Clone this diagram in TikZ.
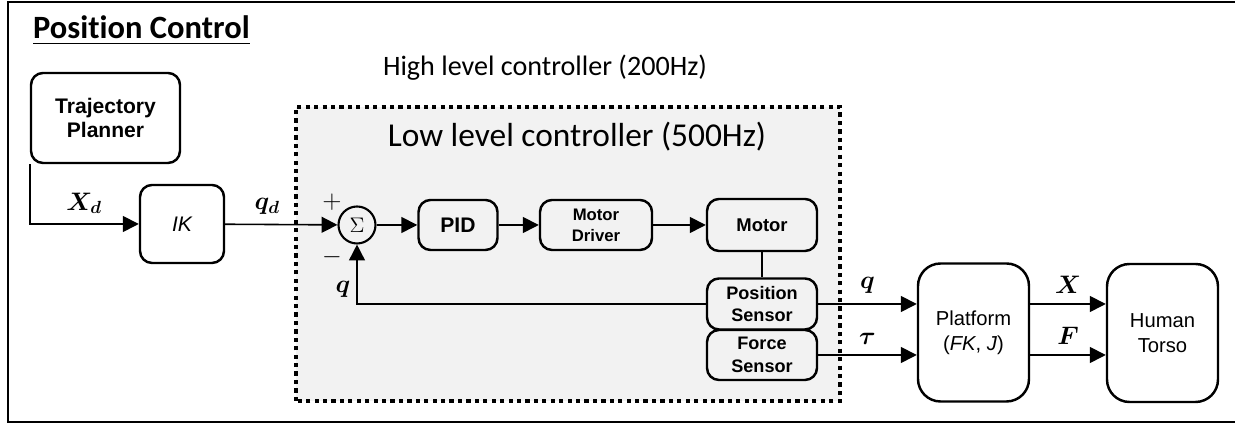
\documentclass[tikz,border=0pt]{standalone}
\usepackage{amsmath}
\usepackage{bm}
\usepackage[no-math]{fontspec}
\newfontfamily\calibri[Ligatures=NoCommon]{Carlito}
\newfontfamily\arial{Liberation Sans}
\usetikzlibrary{arrows.meta}

\begin{document}
\begin{tikzpicture}[
  blk/.style={draw, line width=1.4pt, rounded corners=0.24cm, align=center, inner sep=0pt,
    font=\arial\bfseries\fontsize{12}{14}\selectfont},
  big/.style={blk, rounded corners=0.45cm, minimum width=2.22cm, minimum height=2.76cm,
    font=\arial\fontsize{11.5}{14}\selectfont},
  sig/.style={font=\fontsize{14}{16}\selectfont},
  line/.style={line width=0.9pt},
  arr/.style={line, -{Triangle[length=9pt,width=9pt]}}]
\useasboundingbox (0,0) rectangle (24.7,8.5);
\draw[line width=1.2pt] (24.9,8.46) -- (0.16,8.46) -- (0.16,0.06) -- (24.9,0.06);
\node[anchor=base west, font=\calibri\bfseries\fontsize{18.5}{20}\selectfont] (title) at (0.54,7.72) {\underline{Position Control}};
\node[font=\calibri\fontsize{16}{18}\selectfont] (hl) at (10.9,7.14) {High level controller (200Hz)};
% low level part
\draw[fill=gray!10, line width=2.3pt, dash pattern=on 2.4pt off 2.4pt] (5.92,0.48) rectangle (16.8,6.36);
\node[font=\calibri\fontsize{19}{21}\selectfont] (ll) at (11.54,5.76) {Low level controller (500Hz)};

\node[blk, minimum width=2.98cm, minimum height=1.8cm] (tp) at (2.11,6.14) {Trajectory\\Planner};
\node[blk, minimum width=1.68cm, minimum height=1.56cm, font=\arial\itshape\fontsize{12}{14}\selectfont] (ik) at (3.64,4.02) {IK};
\node[draw, circle, line width=1.2pt, minimum size=0.74cm, inner sep=0pt, font=\fontsize{13}{14}\selectfont] (sum) at (7.14,4.0) {$\Sigma$};
\node[blk, minimum width=1.58cm, minimum height=1.0cm] (pid) at (9.16,4.0) {PID};
\node[blk, minimum width=2.24cm, minimum height=1.0cm, font=\arial\bfseries\fontsize{9.5}{12}\selectfont] (drv) at (11.92,4.0) {Motor\\Driver};
\node[blk, minimum width=2.2cm, minimum height=1.04cm, font=\arial\bfseries\fontsize{10.5}{13}\selectfont] (mot) at (15.24,4.0) {Motor};
\node[blk, minimum width=2.2cm, minimum height=1.02cm, font=\arial\bfseries\fontsize{10.3}{13}\selectfont] (pos) at (15.24,2.42) {Position\\Sensor};
\node[blk, minimum width=2.2cm, minimum height=1.0cm, font=\arial\bfseries\fontsize{10.3}{13}\selectfont] (frc) at (15.24,1.40) {Force\\Sensor};
\node[big] (plt) at (19.47,1.85) {Platform\\(\textit{FK}, \textit{J})};
\node[big] (hum) at (23.25,1.84) {Human\\Torso};

\node[sig] (plus) at (6.64,4.46) {$+$};
\node[sig] (minus) at (6.64,3.36) {$-$};

\draw[arr] (tp.south west) |- node[sig, pos=0.75, above=2pt] {$\bm{X_d}$} (ik);
\draw[arr] (ik) -- node[sig, above=2pt, xshift=-0.28cm] {$\bm{q_d}$} (sum);
\draw[arr] (sum) -- (pid);
\draw[arr] (pid) -- (drv);
\draw[arr] (drv) -- (mot);
\draw[line] (mot) -- (pos);
\draw[arr] (pos.west) -| node[sig, pos=0.5, above left] {$\bm q$} (sum.south);
\draw[arr] (pos.east) -- node[sig, above=2pt] {$\bm q$} (pos.east -| plt.west);
\draw[arr] (frc.east) -- node[sig, above=2pt] {$\bm\tau$} (frc.east -| plt.west);
\draw[arr] (plt.east |- pos) -- node[sig, above=2pt] {$\bm X$} (hum.west |- pos);
\draw[arr] (plt.east |- frc) -- node[sig, above=2pt] {$\bm F$} (hum.west |- frc);
\end{tikzpicture}
\end{document}
